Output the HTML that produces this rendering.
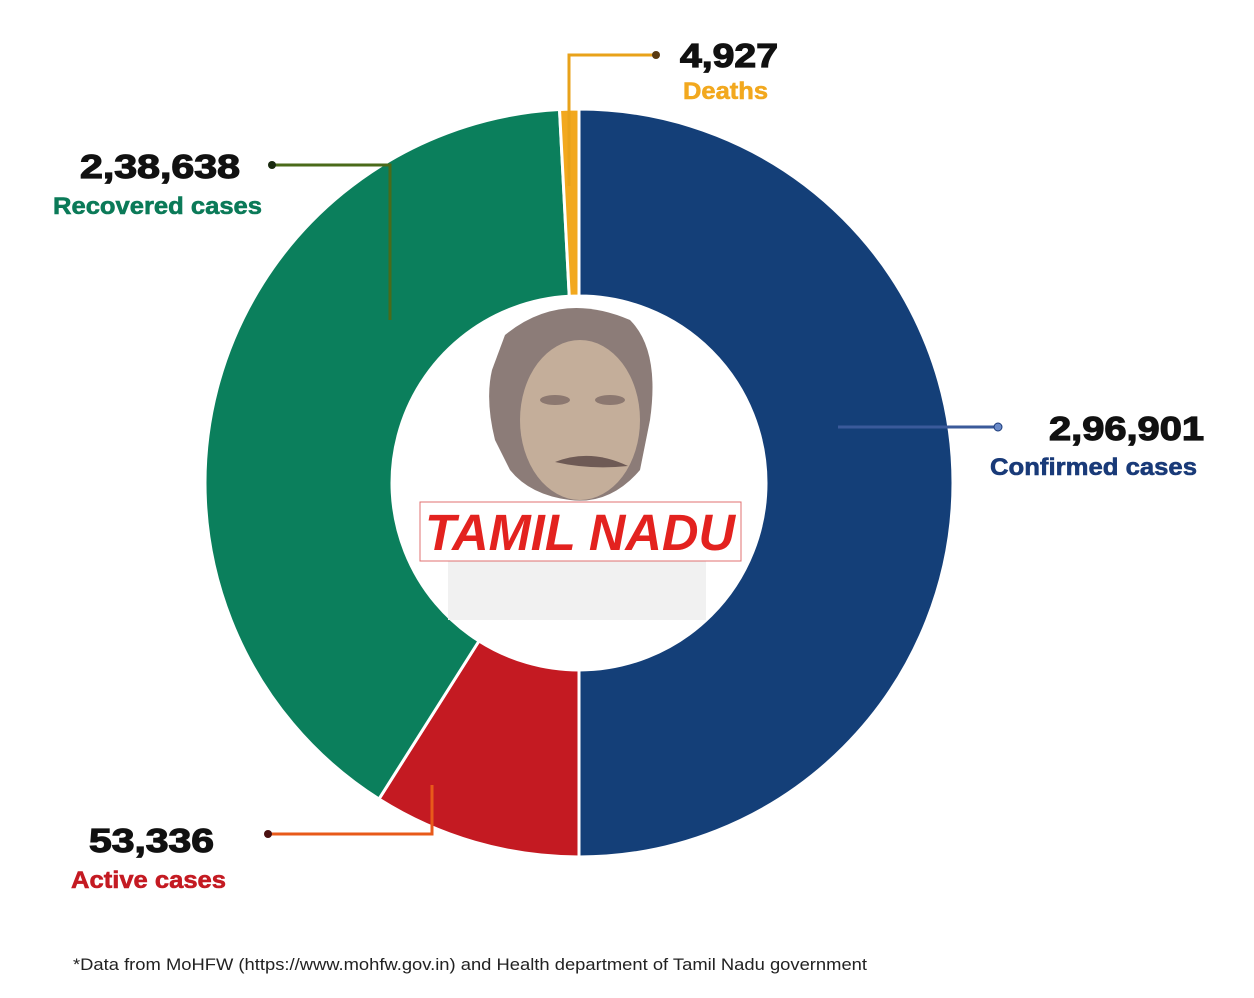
<!DOCTYPE html>
<html><head><meta charset="utf-8"><style>
body{margin:0;background:#fff;width:1254px;height:998px;overflow:hidden;font-family:"Liberation Sans",sans-serif}
svg{display:block}
</style></head><body>
<svg width="1254" height="998" viewBox="0 0 1254 998">
<g id="slices"></g>
<g>
<rect x="448" y="560" width="258" height="60" fill="#f1f1f1"/>
<path d="M505 335 Q560 290 630 320 Q660 350 650 420 L640 470 Q610 505 570 500 Q530 495 510 470 L495 440 Q485 400 492 370 Z" fill="#8c7c78"/>
<ellipse cx="580" cy="420" rx="60" ry="80" fill="#c4ae9a"/>
<path d="M555 462 Q590 448 628 466 Q590 470 555 462Z" fill="#6e5a55"/>
<ellipse cx="555" cy="400" rx="15" ry="5" fill="#8c7870"/>
<ellipse cx="610" cy="400" rx="15" ry="5" fill="#8c7870"/>
<rect x="420" y="502" width="321" height="59" fill="#fff" stroke="#e07070" stroke-width="1"/>
<text x="425" y="550" textLength="310" lengthAdjust="spacingAndGlyphs" font-size="51" font-weight="bold" font-style="italic" fill="#e3221f">TAMIL NADU</text>
</g>
<g fill="none" stroke-width="3">
<polyline points="569,186 569,55 656,55" stroke="#e8a21a"/>
<circle cx="656" cy="55" r="4" fill="#5a3a10" stroke="none"/>
<polyline points="390,320 390,165 272,165" stroke="#4a6a1a"/>
<circle cx="272" cy="165" r="4" fill="#1a2a10" stroke="none"/>
<polyline points="838,427 998,427" stroke="#3a5a9a"/>
<circle cx="998" cy="427" r="4" fill="#6a8ac8" stroke="#1a3a7a" stroke-width="1"/>
<polyline points="432,785 432,834 268,834" stroke="#e85a1a"/>
<circle cx="268" cy="834" r="4" fill="#4a1010" stroke="none"/>
</g>
<g font-weight="bold" lengthAdjust="spacingAndGlyphs">
<text x="680" y="67" textLength="98" lengthAdjust="spacingAndGlyphs" font-size="33" fill="#111" stroke="#111" stroke-width="1.2">4,927</text>
<text x="683" y="99" textLength="85" lengthAdjust="spacingAndGlyphs" font-size="24" fill="#f2a81e" stroke="#f2a81e" stroke-width="0.6">Deaths</text>
<text x="80" y="178" textLength="160" lengthAdjust="spacingAndGlyphs" font-size="33" fill="#111" stroke="#111" stroke-width="1.2">2,38,638</text>
<text x="53" y="214" textLength="209" lengthAdjust="spacingAndGlyphs" font-size="24" fill="#0b7a58" stroke="#0b7a58" stroke-width="0.6">Recovered cases</text>
<text x="1049" y="440" textLength="155" lengthAdjust="spacingAndGlyphs" font-size="33" fill="#111" stroke="#111" stroke-width="1.2">2,96,901</text>
<text x="990" y="475" textLength="207" lengthAdjust="spacingAndGlyphs" font-size="24" fill="#193a78" stroke="#193a78" stroke-width="0.6">Confirmed cases</text>
<text x="89" y="852" textLength="125" lengthAdjust="spacingAndGlyphs" font-size="33" fill="#111" stroke="#111" stroke-width="1.2">53,336</text>
<text x="71" y="888" textLength="155" lengthAdjust="spacingAndGlyphs" font-size="24" fill="#c41a22" stroke="#c41a22" stroke-width="0.6">Active cases</text>
</g>
<text x="73" y="970" textLength="794" lengthAdjust="spacingAndGlyphs" font-size="17" fill="#222">*Data from MoHFW (https://www.mohfw.gov.in) and Health department of Tamil Nadu government</text>
</svg>
<script>
const categories=["Confirmed","Active","Recovered","Deaths"];
const values=[296901,53336,238638,4927];
const colors=["#143f78","#c41a22","#0b7f5c","#f2a81e"];
const cx=579,cy=483,R=374,r=187;
const total=values.reduce((a,b)=>a+b,0);
const g=document.getElementById('slices');
function pt(a,rad){return [cx+rad*Math.sin(a),cy-rad*Math.cos(a)];}
let a0=0;
values.forEach((v,i)=>{
 const a1=a0+v/total*2*Math.PI;
 const large=(a1-a0)>Math.PI?1:0;
 const p1=pt(a0,R),p2=pt(a1,R),p3=pt(a1,r),p4=pt(a0,r);
 const p=document.createElementNS('http://www.w3.org/2000/svg','path');
 p.setAttribute('d',`M${p1} A${R},${R} 0 ${large} 1 ${p2} L${p3} A${r},${r} 0 ${large} 0 ${p4}Z`);
 p.setAttribute('fill',colors[i]);
 p.setAttribute('stroke','#fff');
 p.setAttribute('stroke-width','3');
 
 
 g.appendChild(p);
 a0=a1;
});
</script>
</body></html>
